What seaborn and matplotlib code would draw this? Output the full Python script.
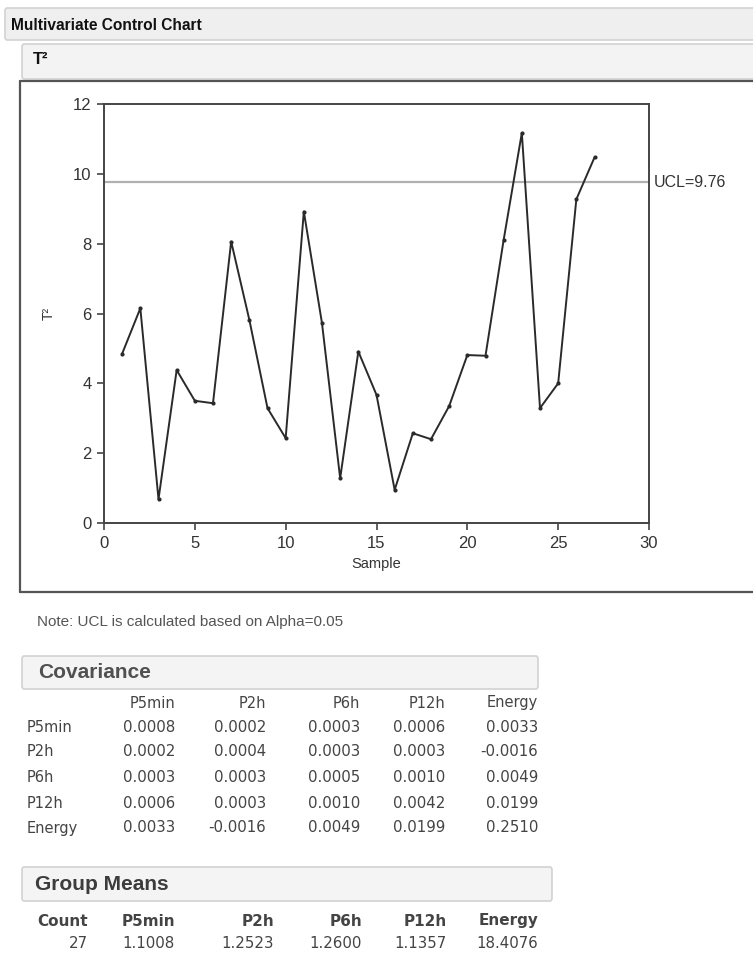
import matplotlib
matplotlib.use("Agg")
import matplotlib.pyplot as plt
from matplotlib.patches import FancyBboxPatch
from matplotlib.lines import Line2D
from matplotlib import font_manager
import seaborn as sns
import pandas as pd

# ---------------- data ----------------
samples = list(range(1, 28))
t2_values = [4.85, 6.15, 0.68, 4.38, 3.50, 3.43, 8.06, 5.82, 3.29, 2.43,
             8.92, 5.72, 1.28, 4.91, 3.67, 0.95, 2.57, 2.40, 3.35, 4.81,
             4.79, 8.11, 11.17, 3.29, 4.00, 9.27, 10.47]
ucl = 9.76
x_ticks = [0, 5, 10, 15, 20, 25, 30]
y_ticks = [0, 2, 4, 6, 8, 10, 12]

cov_labels = ["P5min", "P2h", "P6h", "P12h", "Energy"]
cov_values = [
    ["0.0008", "0.0002", "0.0003", "0.0006", "0.0033"],
    ["0.0002", "0.0004", "0.0003", "0.0003", "-0.0016"],
    ["0.0003", "0.0003", "0.0005", "0.0010", "0.0049"],
    ["0.0006", "0.0003", "0.0010", "0.0042", "0.0199"],
    ["0.0033", "-0.0016", "0.0049", "0.0199", "0.2510"],
]
means_headers = ["Count", "P5min", "P2h", "P6h", "P12h", "Energy"]
means_values = ["27", "1.1008", "1.2523", "1.2600", "1.1357", "18.4076"]

# ---------------- style ----------------
sns.set_theme(style="white")
available = {f.name for f in font_manager.fontManager.ttflist}
narrow = "Liberation Sans Narrow" if "Liberation Sans Narrow" in available else "Liberation Sans"
plt.rcParams["font.family"] = ["Liberation Sans", "DejaVu Sans"]

W, H = 753, 956
fig = plt.figure(figsize=(W / 100, H / 100), dpi=100)
fig.patch.set_facecolor("white")


def fx(px):
    return px / W


def fy(py):
    return 1 - py / H


def header_bar(x0, y0, x1, y1, face="#efefef", edge="#d2d2d2"):
    r = FancyBboxPatch((fx(x0), fy(y1)), fx(x1) - fx(x0), fy(y0) - fy(y1),
                       boxstyle="round,pad=0,rounding_size=0.003",
                       transform=fig.transFigure, facecolor=face, edgecolor=edge,
                       linewidth=1.2, zorder=0)
    fig.patches.append(r)


# top bars
header_bar(5, 8, 760, 40)
fig.text(fx(11), fy(25), "Multivariate Control Chart", fontsize=11.2, fontweight="bold",
         family=[narrow, "DejaVu Sans"], color="#111111", va="center", ha="left")
header_bar(22, 44, 760, 79, face="#f3f3f3")
fig.text(fx(33), fy(60), "T²", fontsize=12, fontweight="bold", color="#111111",
         va="center", ha="left")

# outer frame of the chart
frame = dict(transform=fig.transFigure, color="#555555", linewidth=1.6)
fig.lines.append(Line2D([fx(20), fx(760)], [fy(81), fy(81)], **frame))
fig.lines.append(Line2D([fx(20), fx(20)], [fy(81), fy(592)], **frame))
fig.lines.append(Line2D([fx(20), fx(760)], [fy(592), fy(592)], **frame))

# ---------------- chart ----------------
ax = fig.add_axes([fx(104), fy(523), fx(649) - fx(104), fy(104) - fy(523)])
df = pd.DataFrame({"Sample": samples, "T2": t2_values})
ax.axhline(ucl, color="#b0b0b0", linewidth=1.6, zorder=1)
sns.lineplot(data=df, x="Sample", y="T2", ax=ax, color="#2a2a2a", linewidth=1.4,
             marker="o", markersize=3, markeredgewidth=0, zorder=3)
ax.set_xlim(0, 30)
ax.set_ylim(0, 12)
ax.set_xticks(x_ticks)
ax.set_yticks(y_ticks)
ax.tick_params(axis="both", direction="out", length=5, width=1.2, color="#444444",
               labelsize=12, labelcolor="#333333", bottom=True, left=True, pad=4)
for s in ax.spines.values():
    s.set_color("#444444")
    s.set_linewidth(1.4)
ax.set_xlabel("Sample", fontsize=10.5, color="#333333", labelpad=5)
ax.set_ylabel("T²", fontsize=10, color="#333333", labelpad=12)
ax.text(1.008, ucl, "UCL=9.76", transform=ax.get_yaxis_transform(), fontsize=11.5,
        color="#333333", va="center", ha="left")

# ---------------- note ----------------
fig.text(fx(37), fy(622), "Note: UCL is calculated based on Alpha=0.05", fontsize=11,
         color="#555555", va="center", ha="left")

# ---------------- covariance table ----------------
tf = ["DejaVu Sans"]
header_bar(22, 656, 538, 689, face="#f4f4f4")
fig.text(fx(38), fy(672), "Covariance", fontsize=15, fontweight="bold", color="#505050",
         va="center", ha="left")
col_right = [175, 266, 360, 445, 538]
head_y = 703
row_y = [727, 752, 778, 803, 828]
for lab, xr in zip(cov_labels, col_right):
    fig.text(fx(xr), fy(head_y), lab, fontsize=10.5, family=tf, color="#444444",
             va="center", ha="right")
for i, lab in enumerate(cov_labels):
    fig.text(fx(27), fy(row_y[i]), lab, fontsize=10.5, family=tf, color="#444444",
             va="center", ha="left")
    for j, xr in enumerate(col_right):
        fig.text(fx(xr), fy(row_y[i]), cov_values[i][j], fontsize=10.8, family=tf,
                 color="#444444", va="center", ha="right")

# ---------------- group means ----------------
header_bar(22, 867, 552, 901, face="#f4f4f4")
fig.text(fx(35), fy(885), "Group Means", fontsize=15, fontweight="bold", color="#3c3c3c",
         va="center", ha="left")
gm_right = [88, 175, 274, 362, 447, 538]
for lab, xr in zip(means_headers, gm_right):
    fig.text(fx(xr), fy(921), lab, fontsize=11, fontweight="bold", family=tf,
             color="#444444", va="center", ha="right")
for val, xr in zip(means_values, gm_right):
    fig.text(fx(xr), fy(944), val, fontsize=10.8, family=tf, color="#444444",
             va="center", ha="right")

fig.savefig("out.png", dpi=100, facecolor="white")
